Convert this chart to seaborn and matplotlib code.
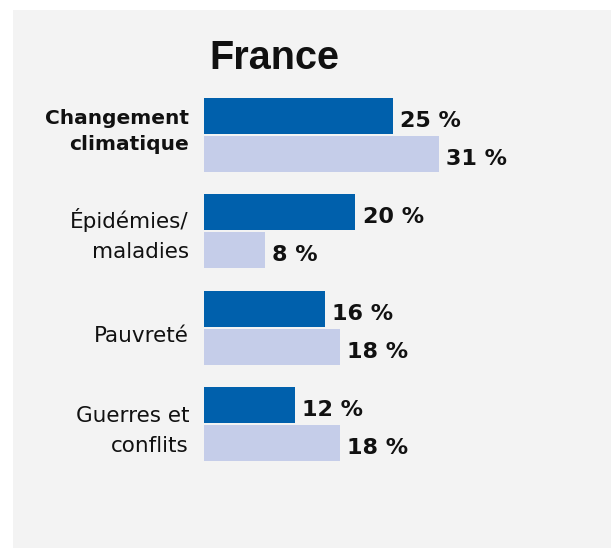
import matplotlib
matplotlib.use("Agg")
import matplotlib.pyplot as plt
from matplotlib.patches import Rectangle
import pandas as pd
import seaborn as sns

# Categories and the two series of shares (in %)
categories = ["Changement\nclimatique", "Épidémies/\nmaladies", "Pauvreté", "Guerres et\nconflits"]
series_names = ["Série A", "Série B"]
values_a = [25, 20, 16, 12]
values_b = [31, 8, 18, 18]
title = "France"

colors = ["#0060ac", "#c5cde9"]
panel_color = "#f3f3f3"
text_color = "#111111"

df = pd.DataFrame({
    "categorie": categories * 2,
    "serie": [series_names[0]] * len(categories) + [series_names[1]] * len(categories),
    "valeur": values_a + values_b,
})

sns.set_theme(style="white")
plt.rcParams["font.family"] = ["DejaVu Sans"]

W, H = 611, 548
fig = plt.figure(figsize=(W / 100, H / 100), dpi=100)
fig.patch.set_facecolor("white")
fig.patches.append(Rectangle((13 / W, 0), 1, 1 - 10 / H, transform=fig.transFigure,
                             facecolor=panel_color, edgecolor="none", zorder=-10))

# Axes placement in pixels: bars start at x=204, 7.57 px per percent;
# category centres from y=135 to y=424
x0, px_per = 204, 7.57
xmax = 50
y_first, y_last = 135, 424
unit = (y_last - y_first) / 3
pad_units = 0.6
top_px = y_first - pad_units * unit
bot_px = y_last + pad_units * unit
ax = fig.add_axes([x0 / W, 1 - bot_px / H, xmax * px_per / W, (bot_px - top_px) / H])
ax.set_facecolor("none")
ax.set_zorder(5)

sns.barplot(data=df, y="categorie", x="valeur", hue="serie", palette=colors,
            orient="h", width=0.79, gap=0.05, saturation=1, linewidth=0,
            legend=False, ax=ax)

ax.set_xlim(0, xmax)
ax.set_ylim(3 + pad_units, -pad_units)
ax.set_xlabel("")
ax.set_ylabel("")
ax.set_xticks([])
ax.set_yticks(range(len(categories)))
ax.set_yticklabels([])
ax.tick_params(axis="y", length=0)
for s in ax.spines.values():
    s.set_visible(False)

# Category labels, right-aligned left of the bars; each line placed on its own
# baseline (pixels below the category centre)
mid_baseline = [2.2, 11.5, 14.8, 13.5]
for i, (cat, mid) in enumerate(zip(categories, mid_baseline)):
    bold = i == 0
    step = 25.7 if bold else 30.0
    lines = cat.split("\n")
    n = len(lines)
    for k, line in enumerate(lines):
        dy = mid + (k - (n - 1) / 2) * step
        ax.annotate(line, xy=(0, i), xycoords=("axes fraction", "data"),
                    xytext=(-15, -dy), textcoords="offset pixels",
                    ha="right", va="baseline",
                    fontsize=14.5 if bold else 15.5,
                    fontweight="bold" if bold else "normal",
                    color=text_color, annotation_clip=False)

# Value labels beside each bar
for container, vals in zip(ax.containers, [values_a, values_b]):
    for patch, v in zip(container.patches, vals):
        yc = patch.get_y() + patch.get_height() / 2
        ax.annotate(f"{v} %", xy=(v, yc), xytext=(5.2, -8), textcoords="offset points",
                    ha="left", va="baseline", fontsize=16, fontweight="bold",
                    color=text_color)

fig.text(274.5 / W, 1 - 69 / H, title, ha="center", va="baseline",
         fontsize=28.5, fontweight="bold", family=["Liberation Sans", "DejaVu Sans"],
         color=text_color)

fig.savefig("out.png", dpi=100)
